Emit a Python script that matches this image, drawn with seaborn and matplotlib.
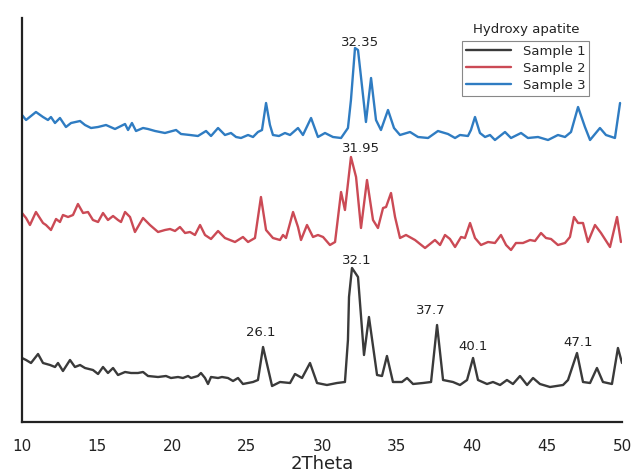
import seaborn as sns
import matplotlib.pyplot as plt
import numpy as np
import pandas as pd

# 2Theta positions and offset intensities (a.u.)
theta_s1 = [10.0, 10.27, 10.6, 11.07, 11.4, 11.87, 12.2, 12.4, 12.73, 13.2, 13.53, 13.87, 14.2, 14.73,
            15.07, 15.4, 15.73, 16.07, 16.4, 16.87, 17.27, 17.73, 18.07, 18.4, 19.07, 19.6, 19.93, 20.4,
            20.73, 21.07, 21.27, 21.73, 21.93, 22.2, 22.4, 22.6, 23.07, 23.33, 23.73, 24.07, 24.4, 24.73,
            25.4, 25.73, 26.07, 26.27, 26.67, 27.2, 27.87, 28.2, 28.67, 29.2, 29.67, 30.33, 31.0, 31.53,
            31.73, 31.8, 32.0, 32.4, 32.8, 33.13, 33.67, 34.0, 34.33, 34.73, 35.33, 35.67, 36.07, 36.73,
            37.27, 37.67, 38.07, 38.73, 39.2, 39.67, 40.07, 40.4, 41.0, 41.4, 41.87, 42.33, 42.73, 43.2,
            43.67, 44.07, 44.53, 45.2, 46.07, 46.4, 47.0, 47.4, 47.87, 48.33, 48.73, 49.33, 49.73, 50.0]
int_s1 = [64, 62, 59, 68, 59, 57, 55, 59, 51, 62, 55, 57, 54, 52,
          48, 55, 49, 54, 47, 50, 49, 49, 50, 46, 45, 46, 44, 45,
          44, 46, 44, 46, 49, 44, 38, 45, 44, 45, 44, 41, 44, 38,
          40, 42, 75, 62, 36, 40, 39, 48, 44, 59, 39, 37, 39, 40,
          82, 125, 154, 145, 67, 105, 47, 46, 66, 40, 40, 44, 38, 39,
          40, 97, 42, 40, 37, 42, 64, 42, 38, 40, 37, 42, 38, 46,
          37, 44, 38, 35, 37, 42, 69, 40, 39, 54, 40, 38, 74, 59]

theta_s2 = [10.0, 10.27, 10.53, 10.93, 11.4, 11.6, 11.93, 12.27, 12.53, 12.73, 13.07, 13.4, 13.73, 14.07,
            14.4, 14.73, 15.07, 15.4, 15.73, 16.07, 16.4, 16.6, 16.87, 17.2, 17.53, 18.07, 18.53, 19.07,
            19.53, 19.87, 20.2, 20.53, 20.87, 21.2, 21.53, 21.87, 22.2, 22.6, 23.07, 23.53, 24.2, 24.73,
            25.07, 25.53, 25.93, 26.27, 26.73, 27.2, 27.4, 27.6, 28.07, 28.4, 28.6, 29.0, 29.4, 29.73,
            30.07, 30.53, 30.87, 31.27, 31.53, 31.93, 32.27, 32.6, 33.0, 33.4, 33.73, 34.07, 34.27, 34.6,
            34.87, 35.2, 35.6, 36.2, 36.87, 37.53, 37.87, 38.2, 38.53, 38.87, 39.27, 39.53, 39.87, 40.2,
            40.6, 41.07, 41.53, 41.93, 42.27, 42.6, 42.93, 43.4, 43.87, 44.2, 44.6, 44.93, 45.27, 45.73,
            46.2, 46.53, 46.8, 47.07, 47.4, 47.73, 48.2, 48.6, 49.2, 49.67, 49.93]
int_s2 = [209, 204, 197, 210, 199, 197, 192, 203, 200, 207, 205, 207, 218, 209,
          210, 202, 200, 209, 202, 206, 202, 200, 210, 205, 190, 204, 197, 190,
          192, 193, 191, 195, 189, 190, 187, 197, 187, 183, 191, 184, 180, 185,
          180, 184, 225, 192, 184, 182, 187, 184, 210, 195, 182, 197, 185, 187,
          185, 177, 180, 230, 212, 265, 245, 194, 242, 202, 194, 214, 215, 229,
          205, 184, 187, 182, 174, 182, 177, 187, 183, 175, 185, 184, 199, 184,
          177, 180, 179, 187, 177, 172, 179, 179, 182, 181, 189, 184, 183, 177,
          179, 185, 205, 199, 199, 180, 197, 189, 175, 205, 180]

theta_s3 = [10.0, 10.27, 10.6, 10.93, 11.4, 11.73, 11.93, 12.2, 12.53, 12.93, 13.27, 13.87, 14.2, 14.6,
            15.07, 15.6, 16.2, 16.87, 17.07, 17.33, 17.6, 18.07, 18.4, 18.87, 19.53, 20.27, 20.6, 21.2,
            21.73, 22.27, 22.6, 23.07, 23.53, 23.93, 24.27, 24.6, 25.07, 25.4, 25.73, 26.0, 26.27, 26.53,
            26.73, 27.13, 27.53, 27.87, 28.4, 28.73, 29.27, 29.73, 30.2, 30.73, 31.27, 31.73, 31.93, 32.2,
            32.4, 32.6, 32.93, 33.27, 33.6, 33.93, 34.4, 34.8, 35.2, 35.87, 36.4, 37.07, 37.73, 38.4,
            38.87, 39.2, 39.73, 39.93, 40.2, 40.53, 40.87, 41.2, 41.53, 42.2, 42.6, 43.27, 43.73, 44.4,
            45.07, 45.73, 46.2, 46.6, 47.07, 47.53, 47.87, 48.53, 48.93, 49.53, 49.87]
int_s3 = [307, 302, 306, 310, 305, 302, 305, 299, 304, 295, 299, 301, 297, 294,
          295, 297, 293, 298, 292, 299, 291, 294, 293, 291, 289, 292, 288, 287,
          286, 291, 286, 294, 287, 289, 285, 284, 287, 285, 290, 292, 319, 297,
          287, 286, 289, 287, 294, 287, 304, 285, 289, 285, 284, 294, 322, 374,
          372, 345, 300, 344, 302, 292, 312, 294, 287, 290, 285, 284, 291, 288,
          284, 287, 286, 292, 305, 289, 285, 287, 282, 290, 284, 289, 284, 285,
          282, 287, 285, 290, 315, 295, 282, 294, 287, 284, 319]

peak_pos = [25.93, 32.33, 37.27, 40.07, 47.07, 32.6, 32.53]
peak_y = [90, 162, 111, 75, 80, 274, 380]
peak_lbl = ['26.1', '32.1', '37.7', '40.1', '47.1', '31.95', '32.35']

sns.set_style('white')
fig = plt.figure(figsize=(6.34, 4.75), dpi=100)
ax = fig.add_axes([22 / 634, 53 / 475, 600 / 634, 404 / 475])

line_kw = dict(lw=1.7, solid_joinstyle='round', solid_capstyle='round')
sns.lineplot(x=theta_s1, y=int_s1, ax=ax, color='#3a3a3a', label='Sample 1', **line_kw)
sns.lineplot(x=theta_s2, y=int_s2, ax=ax, color='#cb4a55', label='Sample 2', **line_kw)
sns.lineplot(x=theta_s3, y=int_s3, ax=ax, color='#2f7cc2', label='Sample 3', **line_kw)

for x, y, s in zip(peak_pos, peak_y, peak_lbl):
    ax.text(x, y, s, ha='center', va='center', fontsize=9.5, color='#222222')

ax.set_xlim(10, 50)
ax.set_ylim(0, 404)
ax.set_yticks([])
ax.set_xticks(np.arange(10, 51, 5))
ax.tick_params(axis='x', length=0, pad=12, labelsize=11, labelcolor='#222222')
ax.set_xlabel('2Theta', fontsize=13, labelpad=1, color='#222222')
ax.set_ylabel('')
for side in ['top', 'right']:
    ax.spines[side].set_visible(False)
ax.spines['left'].set_color('#222222')
ax.spines['bottom'].set_color('#222222')
ax.spines['left'].set_linewidth(1.6)
ax.spines['bottom'].set_linewidth(1.6)

leg = ax.legend(loc='upper left', bbox_to_anchor=(462 / 634, 1 - 41 / 475),
                bbox_transform=fig.transFigure, fontsize=9.5, frameon=True,
                fancybox=False, framealpha=1, edgecolor='#888888',
                handlelength=3.4, labelspacing=0.3, borderpad=0.3,
                handletextpad=0.9, borderaxespad=0)
leg.get_frame().set_linewidth(0.8)
fig.text(526 / 634, 1 - 30 / 475, 'Hydroxy apatite', ha='center', va='center',
         fontsize=9.5, color='#222222')

fig.savefig('out.png', dpi=100)
